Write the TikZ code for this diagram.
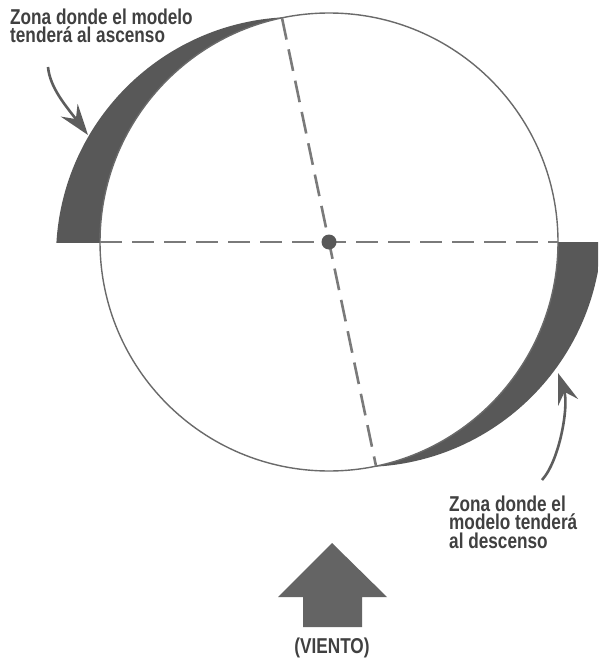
\documentclass[tikz,border=0pt]{standalone}
\usepackage{fontspec}
\newfontfamily\labelfont[FakeStretch=0.8]{Liberation Sans}
\usetikzlibrary{arrows.meta}
\definecolor{crescent}{HTML}{585858}
\definecolor{txt}{HTML}{404040}
\definecolor{dashc}{HTML}{7a7a7a}
\definecolor{circc}{HTML}{6a6a6a}
\definecolor{windc}{HTML}{646464}
\begin{document}
\begin{tikzpicture}[x=1pt,y=-1pt,
  lbl/.style={font=\labelfont\bfseries\fontsize{21.5}{18.5}\selectfont, text=txt, inner sep=0pt, align=left},
  axisline/.style={draw=dashc, line width=2.6pt, dash pattern=on 22pt off 10pt},
  pointer/.style={draw=txt!85, line width=2.6pt, -{Stealth[length=31pt,width=21pt,inset=11pt]}},
]
\useasboundingbox (0,0) rectangle (599,663);
\fill[white] (0,0) rectangle (599,663);

% crescents
\begin{scope}
  \clip (296,257) circle[radius=240];
  \clip (0,0) rectangle (329,242);
  \fill[crescent, even odd rule] (0,0) rectangle (599,663) (329,242) circle[radius=229];
\end{scope}
\begin{scope}
  \clip (362,227) circle[radius=240];
  \clip (329,242) rectangle (598,663);
  \fill[crescent, even odd rule] (0,0) rectangle (599,663) (329,242) circle[radius=229];
\end{scope}

% main circle
\node[circle, draw=circc, line width=1.4pt, minimum size=458pt, inner sep=0pt] (wheel) at (329,242) {};

% axes
\coordinate (left) at (100,242);
\coordinate (right) at (558,242);
\coordinate (top) at (282,18);
\coordinate (bottom) at (376,466);
\draw[axisline] (left) -- (right);
\draw[axisline] (top) -- (bottom);
\node[circle, fill=crescent, minimum size=15pt, inner sep=0pt] (hub) at (329,242) {};

% labels
\node[lbl, anchor=base west] (up) at (10,43) {Zona donde el modelo\\tenderá al ascenso};
\node[lbl, anchor=base west] (down) at (449,548) {Zona donde el\\modelo tenderá\\al descenso};
\node[lbl, anchor=base] (wind) at (332,653) {(VIENTO)};

% pointers
\coordinate (p1s) at (48,67);
\coordinate (p1e) at (88,135);
\draw[pointer] (p1s) .. controls (50,88) and (66,106) .. (p1e);
\coordinate (p2s) at (542,480);
\coordinate (p2e) at (558,373);
\draw[pointer] (p2s) .. controls (560,460) and (569,405) .. (p2e);

% wind arrow
\fill[windc] (332,543) -- (387,597) -- (362,597) -- (362,627) -- (303,627) -- (303,597) -- (278,597) -- cycle;
\end{tikzpicture}
\end{document}
